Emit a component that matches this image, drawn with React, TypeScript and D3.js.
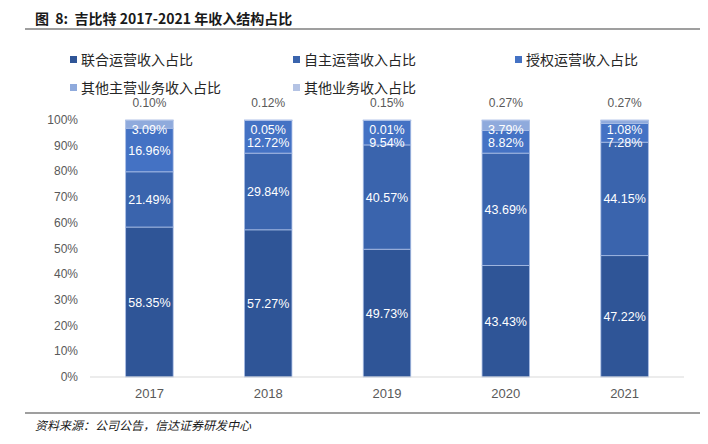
import React from 'react';
import * as d3 from 'd3';

// 数据：各年收入结构占比（%）
const years = ['2017', '2018', '2019', '2020', '2021'];
const seriesNames = ['联合运营收入占比', '自主运营收入占比', '授权运营收入占比', '其他主营业务收入占比', '其他业务收入占比'];
const jointOps = [58.35, 57.27, 49.73, 43.43, 47.22];
const selfOps = [21.49, 29.84, 40.57, 43.69, 44.15];
const licensedOps = [16.96, 12.72, 9.54, 8.82, 7.28];
const otherMain = [3.09, 0.05, 0.01, 3.79, 1.08];
const otherBiz = [0.10, 0.12, 0.15, 0.27, 0.27];
const yTicks = [0, 10, 20, 30, 40, 50, 60, 70, 80, 90, 100];

const colors = ['#2F5597', '#3A64AD', '#4472C4', '#8FAADC', '#B4C3E4'];
const W = 708, H = 444;
const margin = { left: 90, right: 24, top: 120, bottom: 67 };
const numFont = '"Liberation Sans", Arial, "Noto Sans CJK SC", sans-serif';
const cjkFont = '"Noto Sans CJK SC", "Liberation Sans", sans-serif';

const App = () => {
  const rows = years.map((y, i) => ({
    year: y,
    s0: jointOps[i], s1: selfOps[i], s2: licensedOps[i], s3: otherMain[i], s4: otherBiz[i],
  }));
  const keys = ['s0', 's1', 's2', 's3', 's4'];
  const stacked = d3.stack<any>().keys(keys)(rows);

  const x = d3.scaleBand<string>().domain(years).range([margin.left, W - margin.right])
    .paddingInner(0.6).paddingOuter(0.3);
  const y = d3.scaleLinear().domain([0, 100]).range([H - margin.bottom, margin.top]);

  // 数据标签：前四个系列，居中，小段向下避让
  const labels: { x: number; y: number; text: string }[] = [];
  years.forEach((yr, i) => {
    const cx = x(yr)! + x.bandwidth() / 2;
    let prevY = -Infinity;
    // 从上往下排（s3, s2, s1, s0）
    for (let k = 3; k >= 0; k--) {
      const seg = stacked[k][i];
      let cy = (y(seg[0]) + y(seg[1])) / 2;
      cy = Math.max(cy, y(100) + 9, prevY + 13.5);
      prevY = cy;
      labels.push({ x: cx, y: cy, text: (seg[1] - seg[0]).toFixed(2) + '%' });
    }
  });

  const legendPos = [
    [70, 60], [293, 60], [515, 60],
    [70, 88], [293, 88],
  ];

  return (
    <svg width={W} height={H} style={{ position: 'absolute', left: 0, top: 0, background: '#fff' }}>
      {/* 标题 */}
      <text x={35} y={24} fontFamily={cjkFont} fontSize={14} fontWeight="bold" fill="#1a1a1a" xmlSpace="preserve">
        {'图  8:  吉比特 2017-2021 年收入结构占比'}
      </text>
      <line x1={25} x2={700} y1={29} y2={29} stroke="#7f7f7f" strokeWidth={1.5} />

      {/* 图例 */}
      {seriesNames.map((name, i) => (
        <g key={name} transform={`translate(${legendPos[i][0]},${legendPos[i][1]})`}>
          <rect x={0} y={-4} width={7} height={7} fill={colors[i]} />
          <text x={11} y={5} fontFamily={cjkFont} fontSize={14} fill="#262626">{name}</text>
        </g>
      ))}

      {/* Y 轴刻度 */}
      {yTicks.map(t => (
        <text key={t} x={78} y={y(t) + 4} textAnchor="end" fontFamily={numFont} fontSize={12} fill="#595959">
          {t}%
        </text>
      ))}

      {/* 堆叠柱 */}
      {stacked.map((layer, k) => (
        <g key={k}>
          {layer.map((seg, i) => (
            <rect
              key={i}
              x={x(years[i])}
              y={y(seg[1])}
              width={x.bandwidth()}
              height={y(seg[0]) - y(seg[1])}
              fill={colors[k]}
              stroke="#A9BDE5"
              strokeWidth={0.8}
            />
          ))}
        </g>
      ))}

      {/* 基线 */}
      <line x1={margin.left} x2={W - margin.right} y1={y(0)} y2={y(0)} stroke="#D9D9D9" strokeWidth={1} />

      {/* 数据标签 */}
      {labels.map((l, i) => (
        <text key={i} x={l.x} y={l.y + 4.5} textAnchor="middle" fontFamily={numFont} fontSize={12.5} fill="#fff">
          {l.text}
        </text>
      ))}

      {/* 其他业务收入占比，柱顶 */}
      {years.map((yr, i) => (
        <text key={yr} x={x(yr)! + x.bandwidth() / 2} y={107} textAnchor="middle" fontFamily={numFont} fontSize={12} fill="#595959">
          {otherBiz[i].toFixed(2)}%
        </text>
      ))}

      {/* X 轴标签 */}
      {years.map(yr => (
        <text key={yr} x={x(yr)! + x.bandwidth() / 2} y={398} textAnchor="middle" fontFamily={numFont} fontSize={13} fill="#595959">
          {yr}
        </text>
      ))}

      {/* 来源 */}
      <line x1={25} x2={700} y1={413} y2={413} stroke="#7f7f7f" strokeWidth={1.5} />
      <text x={35} y={430} fontFamily={cjkFont} fontSize={12} fontStyle="italic" fill="#1a1a1a">
        资料来源：公司公告，信达证券研发中心
      </text>
    </svg>
  );
};

export default App;
